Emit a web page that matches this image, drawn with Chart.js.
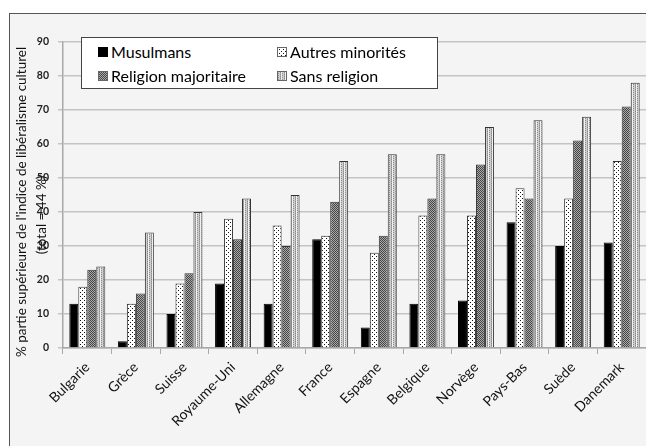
<!DOCTYPE html>
<html>
<head>
<meta charset="utf-8">
<script src="https://cdn.jsdelivr.net/npm/chart.js@4.4.1/dist/chart.umd.min.js"></script>
<style>
  html, body { margin: 0; padding: 0; background: #fff; width: 646px; height: 446px; overflow: hidden; }
  #frame { position: absolute; left: 9px; top: 13px; width: 700px; height: 500px; border: 1px solid #555; background: #f4f4f4; }
  #chart { position: absolute; left: 0; top: 0; }
  #legend { position: absolute; left: 81px; top: 37px; width: 355px; height: 50px; border: 1px solid #444;
            background: #fff; font-family: Lato, "Open Sans", sans-serif; font-size: 16px; color: #000; }
  .item { position: absolute; display: flex; align-items: center; height: 20px; line-height: 20px; }
  .item canvas { width: 10px; height: 10px; margin-right: 3px; }
</style>
</head>
<body>
<div id="frame"></div>
<canvas id="chart" width="646" height="446"></canvas>
<div id="legend"></div>
<script>
// Survey results by country and religious group
const countries = ["Bulgarie", "Grèce", "Suisse", "Royaume-Uni", "Allemagne", "France",
                   "Espagne", "Belgique", "Norvège", "Pays-Bas", "Suède", "Danemark"];
const seriesNames = ["Musulmans", "Autres minorités", "Religion majoritaire", "Sans religion"];
const musulmans      = [13,  2, 10, 19, 13, 32,  6, 13, 14, 37, 30, 31];
const autres         = [18, 13, 19, 38, 36, 33, 28, 39, 39, 47, 44, 55];
const majoritaire    = [23, 16, 22, 32, 30, 43, 33, 44, 54, 44, 61, 71];
const sansReligion   = [24, 34, 40, 44, 45, 55, 57, 57, 65, 67, 68, 78];
const yTicks = [0, 10, 20, 30, 40, 50, 60, 70, 80, 90];
const yTitle = ["% partie supérieure de l'indice de libéralisme culturel", "(total = 44 %)"];

// Small pixel tiles used as bar fills
function tile(rows) {
  const c = document.createElement('canvas');
  c.width = rows[0].length; c.height = rows.length;
  const x = c.getContext('2d');
  rows.forEach((r, j) => r.forEach((col, i) => { x.fillStyle = col; x.fillRect(i, j, 1, 1); }));
  return c;
}
const W = '#ffffff', K = '#111111';
const tiles = [
  null,
  tile([[K, W, W, W], [W, W, W, W], [W, W, K, W], [W, W, W, W]]),
  tile([['#444444', '#aaaaaa'], ['#aaaaaa', '#444444']]),
  tile([['#f2f2f2', '#8a8a8a', '#cfcfcf', '#a9a9a9'], ['#f2f2f2', '#cfcfcf', '#cfcfcf', '#8a8a8a']])
];
const ctx = document.getElementById('chart').getContext('2d');
const fills = tiles.map(t => t ? ctx.createPattern(t, 'repeat') : '#000000');

const values = [musulmans, autres, majoritaire, sansReligion];
const datasets = seriesNames.map((name, i) => ({
  label: name,
  data: values[i],
  backgroundColor: fills[i],
  borderColor: i === 0 ? '#000' : '#333',
  borderWidth: 1,
  categoryPercentage: 0.74,
  barPercentage: 1.0
}));

// Legend box with patterned swatches
const legend = document.getElementById('legend');
const pos = [[16, 4], [195, 4], [16, 28], [195, 28]];
seriesNames.forEach((name, i) => {
  const item = document.createElement('div');
  item.className = 'item';
  item.style.left = pos[i][0] + 'px';
  item.style.top = pos[i][1] + 'px';
  const sw = document.createElement('canvas');
  sw.width = 10; sw.height = 10;
  const sx = sw.getContext('2d');
  sx.fillStyle = tiles[i] ? sx.createPattern(tiles[i], 'repeat') : '#000';
  sx.fillRect(0, 0, 10, 10);
  sx.strokeStyle = i === 0 ? '#000' : '#666';
  sx.strokeRect(0.5, 0.5, 9, 9);
  item.appendChild(sw);
  item.appendChild(document.createTextNode(name));
  legend.appendChild(item);
});

// Two-line rotated y-axis title
const yTitlePlugin = {
  id: 'yTitle',
  afterDraw(chart) {
    const c = chart.ctx;
    const lines = [[22, 202], [42, 215]];
    lines.forEach((p, k) => {
      c.save();
      c.fillStyle = '#111';
      c.textAlign = 'center';
      c.textBaseline = 'middle';
      c.font = '13.5px Lato, "Open Sans", sans-serif';
      c.translate(p[0], p[1]); c.rotate(-Math.PI / 2); c.fillText(yTitle[k], 0, 0);
      c.restore();
    });
  }
};

new Chart(ctx, {
  type: 'bar',
  data: { labels: countries, datasets },
  options: {
    responsive: false,
    animation: false,
    devicePixelRatio: 1,
    layout: { padding: { left: 0, top: 42, right: 0, bottom: 0 } },
    plugins: { legend: { display: false }, tooltip: { enabled: false } },
    scales: {
      x: {
        grid: { drawOnChartArea: false, color: '#a8a8a8', tickLength: 6, lineWidth: 1 },
        border: { color: '#a8a8a8', width: 1.5 },
        ticks: { maxRotation: 45, minRotation: 45, padding: 5, color: '#111',
                 font: { family: 'Lato, "Open Sans", sans-serif', size: 14 } },
        afterFit: s => { s.height = 98; }
      },
      y: {
        min: 0, max: 90,
        afterBuildTicks: s => { s.ticks = yTicks.map(v => ({ value: v })); },
        grid: { color: '#c4c4c4', lineWidth: 1.5, tickLength: 5 },
        border: { color: '#a8a8a8', width: 1.5 },
        ticks: { padding: 9, color: '#222',
                 font: { family: 'Lato, "Open Sans", sans-serif', size: 10.5, weight: 'bold' } },
        afterFit: s => { s.width = 63; }
      }
    }
  },
  plugins: [yTitlePlugin]
});
</script>
</body>
</html>
